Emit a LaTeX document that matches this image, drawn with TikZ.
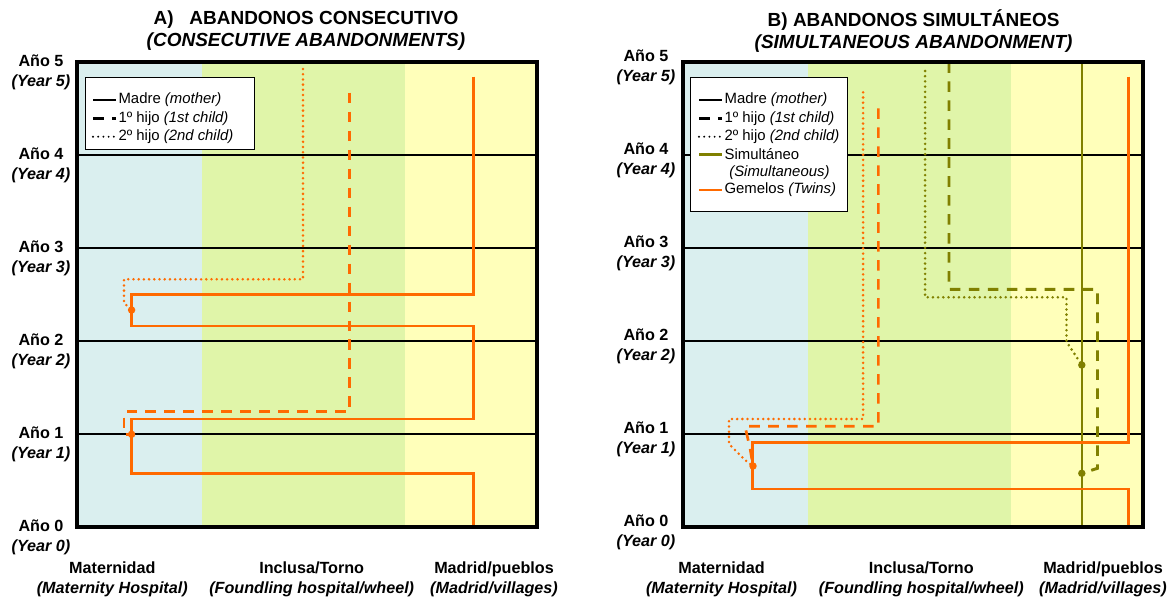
\documentclass[tikz,border=0pt]{standalone}
\usepackage{fontspec}
\setmainfont{Liberation Sans}
\definecolor{bandblue}{HTML}{DAEFEF}
\definecolor{bandgreen}{HTML}{E0F5A9}
\definecolor{bandyellow}{HTML}{FFFFBA}
\definecolor{twinorange}{HTML}{FF6A00}
\definecolor{simolive}{HTML}{808000}
\newcommand{\panelbase}{%
  \fill[bandblue] (0,62) rectangle (124.5,527);
  \fill[bandgreen] (124.5,62) rectangle (328,527);
  \fill[bandyellow] (328,62) rectangle (460,527);
  \foreach \yy in {155,248,341,434}
    \draw[yearline] (0,\yy) -- (460,\yy);
}
\newcommand{\panelframe}{\draw[framebox] (0,62) rectangle (460,527);}
\newcommand{\keyrows}[1]{%
  \draw[black, line width=2.1pt] (16,100) -- (39,100);
  \draw[firstchild, black, line width=2.1pt] (16,118.3) -- (39,118.3);
  \draw[secondchild, black, line width=1.5pt] (16,136.7) -- (39,136.7);
  \node[keytext] (#1mother) at (41.3,100) {Madre \textit{(mother)}};
  \node[keytext] (#1first) at (41.3,118.3) {1º hijo \textit{(1st child)}};
  \node[keytext] (#1second) at (41.3,136.7) {2º hijo \textit{(2nd child)}};
}

\begin{document}
\begin{tikzpicture}[
  x=0.025cm,
  y=-0.025cm,
  yearline/.style={black, line width=1.6pt},
  framebox/.style={black, line width=2.2pt},
  mother/.style={line width=1.9pt},
  firstchild/.style={line width=1.9pt, dash pattern=on 7.5pt off 6pt},
  secondchild/.style={line width=2pt, line cap=round, dash pattern=on 0pt off 3.7pt},
  keybox/.style={draw=black, line width=0.7pt, fill=white},
  keytext/.style={font=\fontsize{10.6}{12}\selectfont, anchor=west, inner sep=0pt},
  yearlabel/.style={font=\fontsize{11.5}{14.2}\selectfont\bfseries, align=center},
  placelabel/.style={font=\fontsize{11.5}{14.2}\selectfont\bfseries, align=center},
  titletext/.style={font=\fontsize{13.5}{15.6}\selectfont\bfseries, align=center},
  event/.style={circle, fill, inner sep=0pt, minimum size=5.3pt}
]
  \useasboundingbox (0,0) rectangle (1172,600);

  \node[titletext] (titleA) at (306,31) {A)\ \ \ ABANDONOS CONSECUTIVO\\\textit{(CONSECUTIVE ABANDONMENTS)}};
  \node[titletext] (titleB) at (913.6,31) {B) ABANDONOS SIMULTÁNEOS\\\textit{(SIMULTANEOUS ABANDONMENT)}};

  \foreach \n in {0,...,5} {
    \node[yearlabel] (yearA\n) at (41,{527-93*\n+10}) {Año \n\\\textit{(Year \n)}};
    \node[yearlabel] (yearB\n) at (646,{527-93*\n+5}) {Año \n\\\textit{(Year \n)}};
  }

  \begin{scope}[shift={(77,0)}]
    \panelbase
    \draw[twinorange, mother] (396.7,76.7) -- (396.7,294.3) -- (54.6,294.3) -- (54.6,326)
      -- (396.7,326) -- (396.7,419) -- (54.6,419) -- (54.6,473.3) -- (396.7,473.3) -- (396.7,527);
    \coordinate (birthA1) at (54.6,310);
    \coordinate (birthA2) at (54.6,434.3);
    \draw[twinorange, secondchild] (226,69) -- (226,279.3) -- (47,279.3) -- (47,303) -- (birthA1);
    \draw[twinorange, firstchild] (272.6,92.7) -- (272.6,411.7) -- (47,411.7) -- (47,434.3) -- (birthA2);
    \node[event, twinorange] (dotA1) at (birthA1) {};
    \node[event, twinorange] (dotA2) at (birthA2) {};
    \draw[keybox] (8.7,77.3) rectangle (177.9,149.3);
    \keyrows{A}
    \panelframe
  \end{scope}

  \begin{scope}[shift={(683,0)}]
    \panelbase
    \coordinate (birthB) at (70,466);
    \coordinate (simB1) at (398.8,365);
    \coordinate (simB2) at (398.8,473.3);
    \draw[simolive, line width=1.5pt] (398.8,62.3) -- (398.8,527.3);
    \draw[simolive, firstchild, line width=2.1pt] (266,62.3) -- (266,289.3) -- (414.5,289.3) -- (414.5,468.3) -- (simB2);
    \draw[simolive, secondchild] (242.1,71) -- (242.1,297.3) -- (383.5,297.3) -- (383.5,341.7) -- (simB1);
    \draw[twinorange, mother] (445.4,76.7) -- (445.4,442.3) -- (69.5,442.3) -- (69.5,489) -- (445.4,489) -- (445.4,527);
    \draw[twinorange, secondchild] (180.1,92.3) -- (180.1,419) -- (46,419) -- (46,444) -- (62,460) -- (birthB);
    \draw[twinorange, firstchild] (195.4,108.3) -- (195.4,426.3) -- (62,426.3) -- (67,448) -- (birthB);
    \node[event, twinorange] (dotB) at (birthB) {};
    \node[event, simolive] (dotB1) at (simB1) {};
    \node[event, simolive] (dotB2) at (simB2) {};
    \draw[keybox] (7.7,77.3) rectangle (164.5,211.7);
    \keyrows{B}
    \draw[simolive, line width=2.1pt] (16,154.3) -- (39,154.3);
    \draw[twinorange, line width=2.1pt] (16,190) -- (39,190);
    \node[keytext] (Bsim) at (41.3,154.3) {Simultáneo};
    \node[keytext] (Bsimen) at (46,172.7) {\textit{(Simultaneous)}};
    \node[keytext] (Btwins) at (41.3,190) {Gemelos \textit{(Twins)}};
    \panelframe
  \end{scope}

  \node[placelabel] (placeA1) at (112.3,579) {Maternidad\\\textit{(Maternity Hospital)}};
  \node[placelabel] (placeA2) at (311.7,579) {Inclusa/Torno\\\textit{(Foundling hospital/wheel)}};
  \node[placelabel] (placeA3) at (494,579) {Madrid/pueblos\\\textit{(Madrid/villages)}};
  \node[placelabel] (placeB1) at (721.5,579) {Maternidad\\\textit{(Maternity Hospital)}};
  \node[placelabel] (placeB2) at (921.3,579) {Inclusa/Torno\\\textit{(Foundling hospital/wheel)}};
  \node[placelabel] (placeB3) at (1103,579) {Madrid/pueblos\\\textit{(Madrid/villages)}};
\end{tikzpicture}
\end{document}
